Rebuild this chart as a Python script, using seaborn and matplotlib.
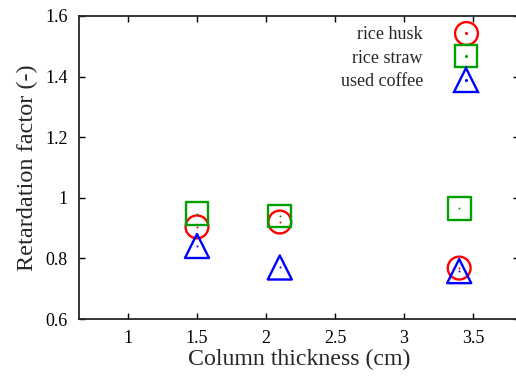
import matplotlib
matplotlib.use("Agg")
import matplotlib.pyplot as plt
import seaborn as sns
import pandas as pd
from matplotlib.lines import Line2D

thickness = [1.5, 2.1, 3.4]
rice_husk = [0.904, 0.920, 0.768]
rice_straw = [0.947, 0.940, 0.966]
used_coffee = [0.841, 0.770, 0.758]
series_names = ["rice husk", "rice straw", "used coffee"]
colors = ["#ff0000", "#00a000", "#0000ff"]
markers = ["o", "s", "^"]
x_ticks = [1, 1.5, 2, 2.5, 3, 3.5]
y_ticks = [0.6, 0.8, 1.0, 1.2, 1.4, 1.6]
y_ticklabels = ["0.6", "0.8", "1", "1.2", "1.4", "1.6"]

sns.set_style("ticks")
plt.rcParams["font.family"] = ["Liberation Serif", "DejaVu Serif"]

W, H = 516, 376
fig = plt.figure(figsize=(W / 100, H / 100), dpi=100)
xmin, xmax = 0.645, 3.83
ppu = 138.0
left_px, top_px, bot_px = 79, 16, 319
ax = fig.add_axes([left_px / W, 1 - bot_px / H, (xmax - xmin) * ppu / W, (bot_px - top_px) / H])

df = pd.DataFrame({"x": thickness * 3,
                   "y": rice_husk + rice_straw + used_coffee,
                   "s": sum([[n] * len(thickness) for n in series_names], [])})

sizes = {"o": 270, "s": 270, "^": 300}
lw = 1.7
handles = []
for name, c, m in zip(series_names, colors, markers):
    sub = df[df.s == name]
    sns.scatterplot(data=sub, x="x", y="y", ax=ax, marker=m, s=sizes[m],
                    facecolors="none", edgecolors=c, linewidth=lw, legend=False, zorder=3)
    sns.scatterplot(data=sub, x="x", y="y", ax=ax, marker="o", s=2,
                    color=c, edgecolor=c, linewidth=0, legend=False, zorder=4)
    h1 = Line2D([], [], marker=m, ls="none", mfc="none", mec=c, mew=lw,
                ms=(sizes[m]) ** 0.5)
    h2 = Line2D([], [], marker="o", ls="none", color=c, ms=1.2)
    handles.append((h1, h2))

ax.set_xlim(xmin, xmax)
ax.set_ylim(0.6, 1.6)
ax.set_xticks(x_ticks)
ax.set_xticklabels([str(t) for t in x_ticks])
ax.set_yticks(y_ticks)
ax.set_yticklabels(y_ticklabels)
ax.tick_params(direction="in", length=4, width=1, top=True, right=True,
               labelsize=13, pad=8, colors="black")
for sp in ax.spines.values():
    sp.set_visible(True)
    sp.set_linewidth(1.3)
ax.set_xlabel("Column thickness (cm)", fontsize=17.2, labelpad=1)
ax.set_ylabel("Retardation factor (-)", fontsize=17.5, labelpad=5)

ax.legend(handles, series_names, loc="upper right", bbox_to_anchor=(487 / W, 1 - 19 / H),
          bbox_transform=fig.transFigure, frameon=False, markerfirst=False,
          fontsize=13, handlelength=1.5, labelspacing=0.36, handletextpad=1.65,
          borderaxespad=0)

fig.savefig("out.png", dpi=100)
